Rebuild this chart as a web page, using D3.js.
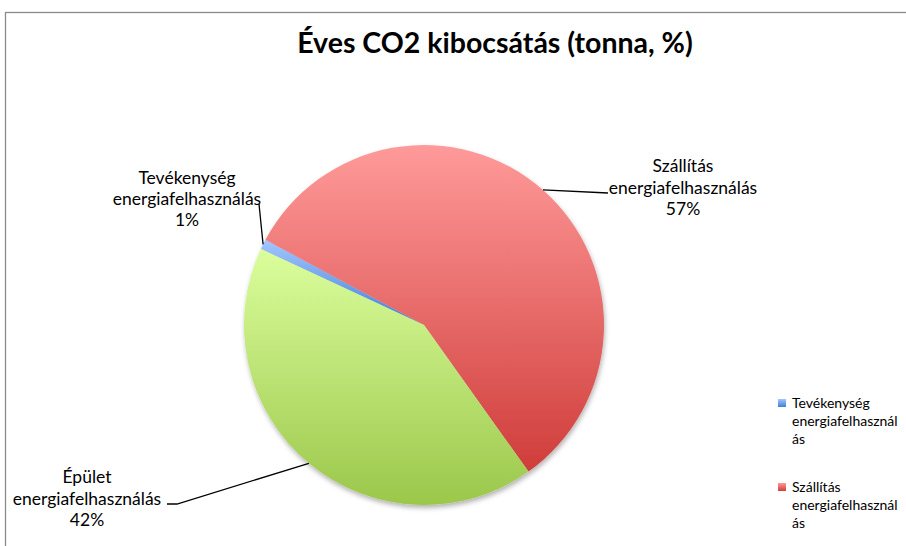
<!DOCTYPE html>
<html>
<head>
<meta charset="utf-8">
<script src="https://cdn.jsdelivr.net/npm/d3@7"></script>
<style>
body { margin:0; background:#fff; }
svg { display:block; font-family: Lato, "Open Sans", sans-serif; }
.title { font-size:28.5px; font-weight:bold; fill:#000; }
.lbl { font-size:17.5px; fill:#000; }
.leg { font-size:14px; fill:#000; }
</style>
</head>
<body>
<svg id="chart" width="906" height="546"></svg>
<script>
// data
var categories = ["Tevékenység energiafelhasználás", "Szállítás energiafelhasználás", "Épület energiafelhasználás"];
var labelLines = [["Tevékenység", "energiafelhasználás"], ["Szállítás", "energiafelhasználás"], ["Épület", "energiafelhasználás"]];
var values = [0.9, 57.3, 41.8]; // % of yearly CO2 (tonnes)
var titleText = "Éves CO2 kibocsátás (tonna, %)";

var colTop = ["#a3c6ff", "#ff9a9a", "#dbfe9c"];
var colBot = ["#3f7fd8", "#cf3d3a", "#9bc74b"];

// layout
var cx = 424, cy = 325, radius = 180;
var firstAngle = -65; // degrees, excel "angle of first slice"
var lblPos = [{x:187, y:184, lh:21, end:[259,204]},
              {x:683, y:172, lh:21.5, end:[608,193]},
              {x:87,  y:483, lh:21.5, end:[167,504], elbow:[177,504]}];

var svg = d3.select("#chart");
var defs = svg.append("defs");

categories.forEach(function(c, i) {
	var g = defs.append("linearGradient").attr("id", "grad" + i)
		.attr("x1", 0).attr("y1", 0).attr("x2", 0).attr("y2", 1);
	g.append("stop").attr("offset", "0%").attr("stop-color", colTop[i]);
	g.append("stop").attr("offset", "100%").attr("stop-color", colBot[i]);
});

var f = defs.append("filter").attr("id", "shadow").attr("x", "-10%").attr("y", "-10%").attr("width", "130%").attr("height", "130%");
f.append("feDropShadow").attr("dx", 1).attr("dy", 3).attr("stdDeviation", 2.5)
	.attr("flood-color", "#000").attr("flood-opacity", 0.3);

// chart area border (cut by the window on right and bottom)
svg.append("rect").attr("x", 5.5).attr("y", 12.5).attr("width", 1000).attr("height", 1000)
	.style("fill", "none").style("stroke", "#8a8a8a").style("stroke-width", 1.3);

svg.append("text").attr("class", "title").attr("x", 495).attr("y", 53)
	.attr("text-anchor", "middle").text(titleText);

var start = firstAngle * Math.PI / 180;
var pie = d3.pie().sort(null).startAngle(start).endAngle(start + 2 * Math.PI);
var arcs = pie(values);
var total = d3.sum(values);
var arc = d3.arc().innerRadius(0).outerRadius(radius);

var pieG = svg.append("g").attr("transform", "translate(" + cx + "," + cy + ")");
var sliceG = pieG.append("g").attr("filter", "url(#shadow)");
sliceG.selectAll("path").data(arcs).enter().append("path")
	.attr("d", arc)
	.style("fill", function(d, i) { return "url(#grad" + i + ")"; });

// leader lines + labels
arcs.forEach(function(d, i) {
	var mid = (d.startAngle + d.endAngle) / 2;
	var px = cx + Math.sin(mid) * radius;
	var py = cy - Math.cos(mid) * radius;
	var p = lblPos[i];
	var pts = [p.end];
	if (p.elbow) pts.push(p.elbow);
	pts.push([px, py]);
	svg.append("path").attr("d", d3.line()(pts))
		.style("fill", "none").style("stroke", "#000").style("stroke-width", 1.3);

	var pct = Math.round(d.value / total * 100) + "%";
	var t = svg.append("text").attr("class", "lbl").attr("text-anchor", "middle");
	labelLines[i].concat([pct]).forEach(function(s, k) {
		t.append("tspan").attr("x", p.x).attr("y", p.y + k * p.lh).text(s);
	});
});

// legend, long words broken like excel does (17 chars a line)
var legX = 778, legY = 399, legSz = 8, legLh = 18, legGap = 84, maxChars = 17;
function wrapLine(str) {
	var out = [];
	str.split(" ").forEach(function(w) {
		while (w.length > maxChars) { out.push(w.slice(0, maxChars)); w = w.slice(maxChars); }
		out.push(w);
	});
	return out;
}
categories.forEach(function(c, i) {
	var y0 = legY + i * legGap;
	if (y0 > 546) return; // outside the visible chart area
	svg.append("rect").attr("x", legX).attr("y", y0).attr("width", legSz).attr("height", legSz)
		.style("fill", "url(#grad" + i + ")");
	var t = svg.append("text").attr("class", "leg");
	wrapLine(c).forEach(function(s, k) {
		t.append("tspan").attr("x", legX + 14).attr("y", y0 + 9 + k * legLh).text(s);
	});
});
</script>
</body>
</html>
